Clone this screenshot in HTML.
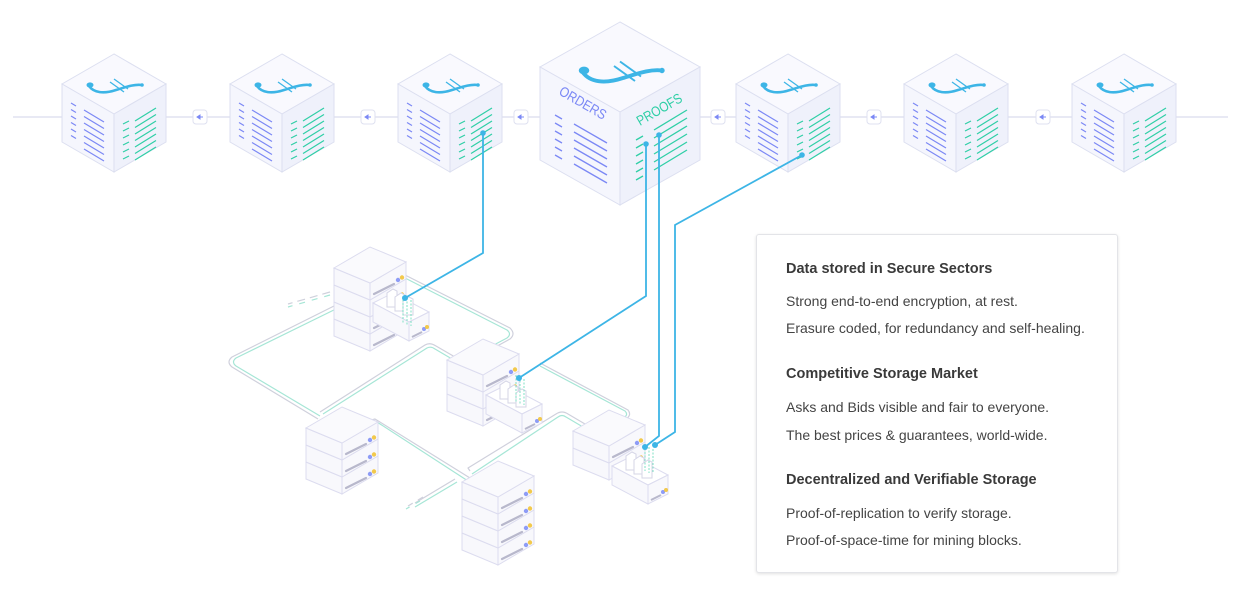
<!DOCTYPE html>
<html><head><meta charset="utf-8"><style>
html,body{margin:0;padding:0;background:#fff;width:1245px;height:610px;overflow:hidden}
.panel{position:absolute;left:756px;top:234px;width:360px;height:337px;background:#fff;border:1px solid #e3e4e8;border-radius:3px;box-shadow:0 1px 3px rgba(0,0,0,0.12);font-family:"Liberation Sans",sans-serif;color:#333}
.panel h3{position:absolute;left:29px;margin:0;font-size:14.5px;font-weight:bold;color:#3a3a3a}
.panel p{position:absolute;left:29px;margin:0;font-size:14px;color:#444}
</style></head><body>
<svg width="1245" height="610" style="position:absolute;left:0;top:0">
<defs>
<g id="logo">
 <path d="M-25,32 C-20,39 -10,40 2,36 C12,33 20,30 28,31" fill="none" stroke="#3db5e6" stroke-width="2.6" stroke-linecap="round"/>
 <ellipse cx="-24" cy="31" rx="3.5" ry="2.6" fill="#3db5e6"/>
 <circle cx="28" cy="31" r="1.8" fill="#3db5e6"/>
 <line x1="-4" y1="28" x2="10" y2="38" stroke="#3db5e6" stroke-width="1.3"/>
 <line x1="0" y1="25" x2="14" y2="35" stroke="#3db5e6" stroke-width="1.3"/>
</g>
<g id="cube">
 <polygon points="0,0 -52,30 0,60 52,30" fill="#f9f9fe" stroke="#dcdff0"/>
 <polygon points="-52,30 0,60 0,118 -52,88" fill="#f5f6fd" stroke="#dcdff0"/>
 <polygon points="0,60 52,30 52,88 0,118" fill="#eff1fb" stroke="#dcdff0"/>
 <use href="#logo"/>
 <g stroke="#7b88f5" stroke-width="1.2">
  <line x1="-43" y1="49" x2="-38" y2="52"/><line x1="-43" y1="55.5" x2="-38" y2="58.5"/><line x1="-43" y1="62" x2="-38" y2="65"/><line x1="-43" y1="68.5" x2="-38" y2="71.5"/><line x1="-43" y1="75" x2="-38" y2="78"/><line x1="-43" y1="81.5" x2="-38" y2="84.5"/>
  <line x1="-30" y1="56" x2="-10" y2="68"/><line x1="-30" y1="62.5" x2="-10" y2="74.5"/><line x1="-30" y1="69" x2="-10" y2="81"/><line x1="-30" y1="75.5" x2="-10" y2="87.5"/><line x1="-30" y1="82" x2="-10" y2="94"/><line x1="-30" y1="88.5" x2="-10" y2="100.5"/><line x1="-30" y1="95" x2="-10" y2="107"/>
 </g>
 <g stroke="#2fcfa6" stroke-width="1.2">
  <line x1="9" y1="70" x2="15" y2="67"/><line x1="9" y1="77" x2="15" y2="74"/><line x1="9" y1="84" x2="15" y2="81"/><line x1="9" y1="91" x2="15" y2="88"/><line x1="9" y1="98" x2="15" y2="95"/><line x1="9" y1="105" x2="15" y2="102"/>
  <line x1="21" y1="67" x2="42" y2="54"/><line x1="21" y1="73.5" x2="42" y2="60.5"/><line x1="21" y1="80" x2="42" y2="67"/><line x1="21" y1="86.5" x2="42" y2="73.5"/><line x1="21" y1="93" x2="42" y2="80"/><line x1="21" y1="99.5" x2="42" y2="86.5"/><line x1="21" y1="106" x2="42" y2="93"/>
 </g>
</g>
<g id="arrow">
 <rect x="-7" y="-7" width="14" height="14" rx="3" fill="#fff" stroke="#dfe1f0"/>
 <path d="M-3,0 L3,0 M-3,0 L0,-2 L0,2 Z" stroke="#7b88f5" fill="#7b88f5" stroke-width="1"/>
</g>
<g id="unit">
 <polygon points="-36,21 0,36 0,53 -36,38" fill="#f8f8fc" stroke="#dcdcef"/>
 <polygon points="0,36 36,15 36,32 0,53" fill="#f8f8fc" stroke="#dcdcef"/>
 <line x1="4" y1="47" x2="24" y2="37" stroke="#b8b8cc" stroke-width="2.2" stroke-linecap="round"/>
 <circle cx="28" cy="33" r="2.2" fill="#8e9cf6"/>
 <circle cx="32" cy="30.5" r="2.2" fill="#f2c94c"/>
</g>
<g id="top">
 <polygon points="0,0 -36,21 0,36 36,15" fill="#fafafd" stroke="#dcdcef"/>
</g>
<g id="drawer">
 <polygon points="-20,6 0,-4 36,15 16,25" fill="#fff" stroke="#dcdcef"/>
 <g fill="#fff" stroke="#d5d5e6"><path d="M-6,10 l0,-14 l6,-4 l4,2 l0,16 z"/><path d="M2,14 l0,-14 l6,-4 l4,2 l0,16 z"/><path d="M10,18 l0,-14 l6,-4 l4,2 l0,16 z"/></g>
 <polygon points="-20,6 16,25 16,44 -20,25" fill="#f8f8fc" stroke="#dcdcef"/>
 <polygon points="16,25 36,15 36,34 16,44" fill="#f8f8fc" stroke="#dcdcef"/>
 <line x1="19" y1="40" x2="29" y2="35" stroke="#b8b8cc" stroke-width="2"/>
 <circle cx="31" cy="32" r="2" fill="#8e9cf6"/><circle cx="34" cy="30" r="2" fill="#f2c94c"/>
</g>
</defs>

<line x1="13" y1="117" x2="1228" y2="117" stroke="#e8e9f4" stroke-width="2"/>
<use href="#arrow" x="200" y="117"/><use href="#arrow" x="368" y="117"/><use href="#arrow" x="521" y="117"/>
<use href="#arrow" x="718" y="117"/><use href="#arrow" x="874" y="117"/><use href="#arrow" x="1043" y="117"/>

<use href="#cube" x="114" y="54"/><use href="#cube" x="282" y="54"/><use href="#cube" x="450" y="54"/>
<use href="#cube" x="788" y="54"/><use href="#cube" x="956" y="54"/><use href="#cube" x="1124" y="54"/>

<!-- big cube -->
<g transform="translate(620,22)">
 <polygon points="0,0 -80,45 0,90 80,45" fill="#f9f9fe" stroke="#dcdff0"/>
 <polygon points="-80,45 0,90 0,183 -80,138" fill="#f5f6fd" stroke="#dcdff0"/>
 <polygon points="0,90 80,45 80,138 0,183" fill="#eff1fb" stroke="#dcdff0"/>
 <use href="#logo" transform="translate(0,2) scale(1.5)"/>
 <text transform="translate(-62,72) rotate(30)" font-family="Liberation Sans,sans-serif" font-size="14" fill="#7b88f5" textLength="52" lengthAdjust="spacingAndGlyphs">ORDERS</text>
 <text transform="translate(20,104) rotate(-30)" font-family="Liberation Sans,sans-serif" font-size="14" fill="#2fcfa6" textLength="50" lengthAdjust="spacingAndGlyphs">PROOFS</text>
 <g stroke="#7b88f5" stroke-width="1.3">
  <line x1="-65" y1="93" x2="-58" y2="97"/><line x1="-65" y1="101" x2="-58" y2="105"/><line x1="-65" y1="109" x2="-58" y2="113"/><line x1="-65" y1="117" x2="-58" y2="121"/><line x1="-65" y1="125" x2="-58" y2="129"/><line x1="-65" y1="133" x2="-58" y2="137"/>
  <line x1="-46" y1="102" x2="-13" y2="121"/><line x1="-46" y1="110" x2="-13" y2="129"/><line x1="-46" y1="118" x2="-13" y2="137"/><line x1="-46" y1="126" x2="-13" y2="145"/><line x1="-46" y1="134" x2="-13" y2="153"/><line x1="-46" y1="142" x2="-13" y2="161"/>
 </g>
 <g stroke="#2fcfa6" stroke-width="1.3">
  <line x1="16" y1="118" x2="23" y2="114"/><line x1="16" y1="126" x2="23" y2="122"/><line x1="16" y1="134" x2="23" y2="130"/><line x1="16" y1="142" x2="23" y2="138"/><line x1="16" y1="150" x2="23" y2="146"/><line x1="16" y1="158" x2="23" y2="154"/>
  <line x1="34" y1="108" x2="67" y2="88"/><line x1="34" y1="116" x2="67" y2="96"/><line x1="34" y1="124" x2="67" y2="104"/><line x1="34" y1="132" x2="67" y2="112"/><line x1="34" y1="140" x2="67" y2="120"/><line x1="34" y1="148" x2="67" y2="128"/>
 </g>
</g>

<!-- pipes -->
<g fill="none" stroke-linejoin="round">
 <g stroke="#cfd0dc" stroke-width="1.2">
  <path d="M340,303 L232,357 Q226,362 232,367 L318,419"/>
  <path d="M405,275 L510,328 Q516,334 510,339 L490,350"/>
  <path d="M320,412 L425,345 Q430,342 436,346 L455,357"/>
  <path d="M368,421 L375,419 L470,478"/>
  <path d="M455,479 L415,503"/><path d="M423,497 L408,506" stroke-dasharray="6,6"/>
  <path d="M540,363 L628,410 Q632,415 626,419 L620,422"/>
  <path d="M470,471 L468,468 L556,414 Q562,410 568,414 L585,424"/>
  <path d="M330,292 L288,304" stroke-dasharray="8,5"/>
 </g>
 <g stroke="#a6e6d6" stroke-width="1.2">
  <path d="M342,306 L236,358 Q231,362 236,366 L320,416"/>
  <path d="M405,278 L507,330 Q512,334 507,338 L490,347"/>
  <path d="M323,414 L427,348 Q431,346 435,349 L452,359"/>
  <path d="M370,424 L377,422 L468,481"/>
  <path d="M457,482 L415,507"/><path d="M420,501 L406,509" stroke-dasharray="5,7"/>
  <path d="M540,366 L625,411 Q629,415 623,418 L618,420"/>
  <path d="M472,474 L558,417 Q562,414 566,417 L583,427"/>
  <path d="M330,295 L288,307" stroke-dasharray="6,7"/>
 </g>
</g>

<!-- servers -->
<g transform="translate(370,247)">
 <use href="#unit" y="51"/><use href="#unit" y="34"/><use href="#unit" y="17"/><use href="#unit" y="0"/><use href="#top"/>
 <use href="#drawer" transform="translate(23,50)"/>
</g>
<g transform="translate(342,407)">
 <use href="#unit" y="34"/><use href="#unit" y="17"/><use href="#unit" y="0"/><use href="#top"/>
</g>
<g transform="translate(483,339)">
 <use href="#unit" y="34"/><use href="#unit" y="17"/><use href="#unit" y="0"/><use href="#top"/>
 <use href="#drawer" transform="translate(23,50)"/>
</g>
<g transform="translate(498,461)">
 <use href="#unit" y="51"/><use href="#unit" y="34"/><use href="#unit" y="17"/><use href="#unit" y="0"/><use href="#top"/>
</g>
<g transform="translate(609,410)">
 <use href="#unit" y="17"/><use href="#unit" y="0"/><use href="#top"/>
 <use href="#drawer" transform="translate(23,50)"/>
</g>

<g stroke="#7fe0c4" stroke-width="1" stroke-dasharray="2,1.5">
 <path d="M403,296 l0,28 M407,298 l0,28 M411,300 l0,26"/>
 <path d="M516,375 l0,28 M520,377 l0,28 M524,379 l0,26"/>
 <path d="M645,445 l0,26 M649,447 l0,26 M653,449 l0,24"/>
</g>

<g fill="none" stroke="#3db5e6" stroke-width="1.8">
 <path d="M483,133 L483,253 L405,298"/>
 <path d="M646,144 L646,296 L519,378"/>
 <path d="M659,135 L659,436 L645,447"/>
 <path d="M802,155 L675,225 L675,432 L655,445"/>
</g>
<g fill="#3db5e6">
 <circle cx="483" cy="133" r="2.8"/><circle cx="646" cy="144" r="2.8"/><circle cx="659" cy="135" r="2.8"/><circle cx="802" cy="155" r="2.8"/>
 <circle cx="405" cy="298" r="3"/><circle cx="519" cy="378" r="3"/><circle cx="645" cy="447" r="3"/><circle cx="655" cy="445" r="3"/>
</g>
</svg>

<div class="panel">
 <h3 style="top:26px">Data stored in Secure Sectors</h3>
 <p style="top:58px">Strong end-to-end encryption, at rest.</p>
 <p style="top:85px">Erasure coded, for redundancy and self-healing.</p>
 <h3 style="top:131px">Competitive Storage Market</h3>
 <p style="top:164px">Asks and Bids visible and fair to everyone.</p>
 <p style="top:192px">The best prices &amp; guarantees, world-wide.</p>
 <h3 style="top:237px">Decentralized and Verifiable Storage</h3>
 <p style="top:270px">Proof-of-replication to verify storage.</p>
 <p style="top:297px">Proof-of-space-time for mining blocks.</p>
</div>
</body></html>
